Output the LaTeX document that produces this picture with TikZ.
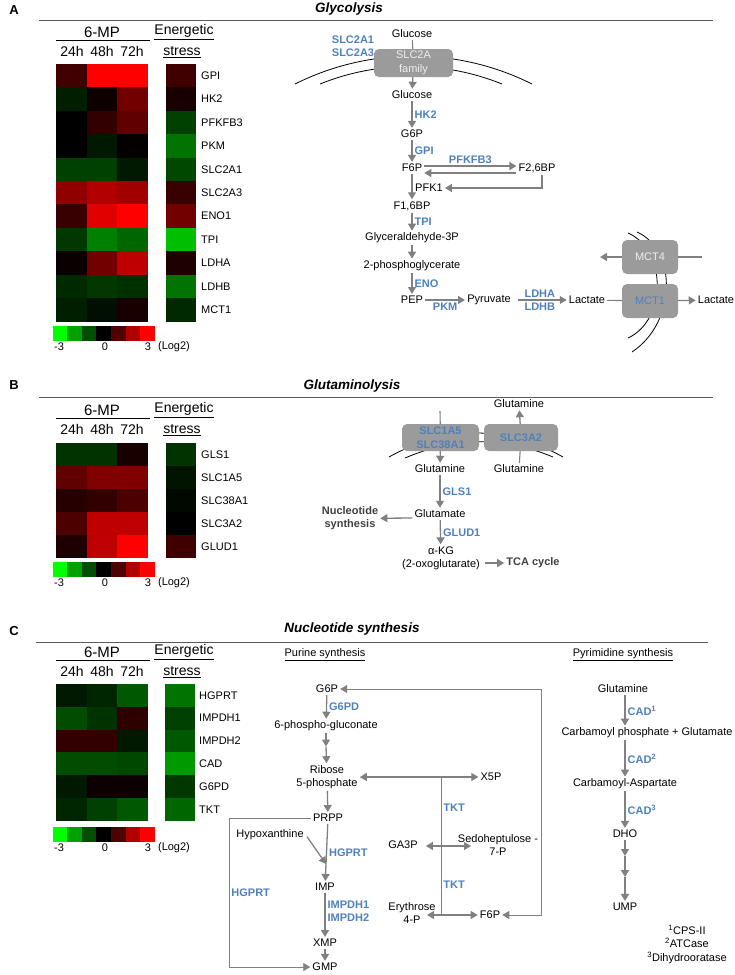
\documentclass[tikz,border=0pt]{standalone}
\usepackage{fontspec}
\setmainfont{Liberation Sans}
\usepackage{tikz}
\usetikzlibrary{arrows.meta,positioning}

\definecolor{enzblue}{RGB}{79,129,189}
\definecolor{arrowgray}{RGB}{128,128,128}
\definecolor{boxgray}{RGB}{155,155,155}
\definecolor{boxtext}{RGB}{238,238,238}
\definecolor{darktext}{RGB}{64,64,64}
\definecolor{rulegray}{RGB}{90,90,90}

% one heat map cell: x, y, width, height, value (-100 green ... 100 red)
\newcommand{\heatcell}[5]{%
  \ifnum#5<0 \colorlet{cellcol}{green!\the\numexpr#5*(-1)\relax!black}%
  \else \colorlet{cellcol}{red!#5!black}\fi
  \fill[cellcol] ({#1},{#2}) rectangle ++(#3,#4);}

\begin{document}
\begin{tikzpicture}[x=1pt,y=-1pt,
    txt/.style={font=\fontsize{11}{13}\selectfont, inner sep=2pt, align=center},
    enz/.style={font=\fontsize{11}{13}\selectfont\bfseries, text=enzblue, inner sep=2pt, align=left},
    gene/.style={font=\fontsize{11}{13}\selectfont, anchor=west, inner sep=2pt},
    hdr/.style={font=\fontsize{14}{16}\selectfont, inner sep=1pt},
    ttl/.style={font=\fontsize{13.5}{16}\selectfont\bfseries\itshape},
    panel/.style={font=\fontsize{13}{15}\selectfont\bfseries},
    outcome/.style={font=\fontsize{11}{13}\selectfont\bfseries, text=darktext, align=center, inner sep=2pt},
    carrier/.style={fill=boxgray, rounded corners=5pt, minimum width=56pt, minimum height=34pt, align=center, font=\fontsize{11}{14}\selectfont, text=boxtext, inner sep=1pt},
    flow/.style={draw=arrowgray, line width=1.3pt, -{Triangle[length=7pt,width=8pt]}},
    flowthin/.style={draw=arrowgray, line width=0.9pt, -{Triangle[length=7pt,width=8pt]}},
    flowboth/.style={draw=arrowgray, line width=1.1pt, {Triangle[length=7pt,width=8pt]}-{Triangle[length=7pt,width=8pt]}},
    link/.style={draw=arrowgray, line width=1.1pt},
    membrane/.style={draw=black, line width=0.8pt},
    rule/.style={draw=rulegray, line width=1pt}]

\useasboundingbox (0,0) rectangle (735,975);

%panel letters, titles and rules
\node[panel] (lblA) at (14,10) {A};
\node[panel] (lblB) at (14,385) {B};
\node[panel] (lblC) at (14,631) {C};
\node[ttl] (ttlA) at (349,9) {Glycolysis};
\node[ttl] (ttlB) at (352,386) {Glutaminolysis};
\node[ttl] (ttlC) at (352,629) {Nucleotide synthesis};
\draw[rule] (39,20) -- (713,20);
\draw[rule] (39,397) -- (713,397);
\draw[rule] (36,642) -- (708,642);

%heat map headers
\foreach \p/\y in {A/32,B/410,C/652}{
  \node[hdr, font=\fontsize{15}{17}\selectfont] (mp-\p) at (102,\y) {6-MP};
  \draw (56,\y+8.5) -- (150,\y+8.5);
  \node[hdr] (t24-\p) at (72,\y+19) {24h};
  \node[hdr] (t48-\p) at (102,\y+19) {48h};
  \node[hdr] (t72-\p) at (132,\y+19) {72h};
  \node[hdr] (en-\p) at (184,\y) {\underline{Energetic}};
  \node[hdr] (st-\p) at (182,\y+20) {\underline{stress}};
}

%heat map A
\foreach \g/\a/\b/\c/\e [count=\i from 0] in {GPI/25/100/100/25, HK2/-12/6/45/10,
    PFKFB3/0/20/38/-25, PKM/0/-10/2/-45, SLC2A1/-25/-25/-10/-28, SLC2A3/57/70/63/22,
    ENO1/22/88/100/45, TPI/-22/-50/-40/-75, LDHA/3/45/75/12, LDHB/-16/-22/-19/-45,
    MCT1/-12/-6/10/-16}{
  \heatcell{56}{64+23.4*\i}{30.8}{23.5}{\a}
  \heatcell{86.7}{64+23.4*\i}{30.8}{23.5}{\b}
  \heatcell{117.4}{64+23.4*\i}{30.6}{23.5}{\c}
  \heatcell{166}{64+23.4*\i}{30}{23.5}{\e}
  \node[gene] (gA-\i) at (199,{75.7+23.4*\i}) {\g};
}

%heat map B
\foreach \g/\a/\b/\c/\e [count=\i from 0] in {GLS1/-20/-20/10/-20, SLC1A5/38/50/50/-8,
    SLC38A1/15/20/30/-3, SLC3A2/30/75/75/0, GLUD1/12/75/100/25}{
  \heatcell{56}{443+23*\i}{30.8}{23.1}{\a}
  \heatcell{86.7}{443+23*\i}{30.8}{23.1}{\b}
  \heatcell{117.4}{443+23*\i}{30.6}{23.1}{\c}
  \heatcell{166}{443+23*\i}{30}{23.1}{\e}
  \node[gene] (gB-\i) at (199,{454.5+23*\i}) {\g};
}

%heat map C
\foreach \g/\a/\b/\c/\e [count=\i from 0] in {HGPRT/-10/-15/-35/-45, IMPDH1/-30/-20/18/-25,
    IMPDH2/20/20/-10/-35, CAD/-30/-30/-28/-60, G6PD/-10/5/5/-22, TKT/-15/-25/-35/-40}{
  \heatcell{56}{684+22.8*\i}{30.8}{22.9}{\a}
  \heatcell{86.7}{684+22.8*\i}{30.8}{22.9}{\b}
  \heatcell{117.4}{684+22.8*\i}{30.6}{22.9}{\c}
  \heatcell{165}{684+22.8*\i}{30}{22.9}{\e}
  \node[gene] (gC-\i) at (197,{695.4+22.8*\i}) {\g};
}

%colour keys
\foreach \p/\y in {A/326,B/562,C/827}{
  \foreach \val [count=\col from 0] in {-100,-63,-31,0,31,69,100}{
    \heatcell{52.5+14.6*\col}{\y}{14.7}{15}{\val}
  }
  \node[txt] (lo-\p) at (59,\y+21) {-3};
  \node[txt] (mid-\p) at (105,\y+21) {0};
  \node[txt] (hi-\p) at (148,\y+21) {3};
  \node[txt] (log-\p) at (174,\y+21) {(Log2)};
}

%glycolysis
\draw[membrane] (295,84) .. controls (369.5,46.7) and (457.5,46.7) .. (532,84);
\draw[membrane] (320,84) .. controls (378.1,60.5) and (443.9,60.5) .. (502,84);
\draw[membrane] (628,233) .. controls (667,250) and (667,320) .. (628,338);
\draw[membrane] (637,232) .. controls (677,250) and (677,322) .. (632,352);

\node[txt] (glcout) at (412,34) {Glucose};
\node[enz] (slc2a) at (353,46.5) {SLC2A1\\SLC2A3};
\node[carrier, minimum width=79pt, minimum height=28pt] (slcbox) at (413.5,63) {SLC2A\\family};
\node[txt] (glcin) at (412,95) {Glucose};
\node[txt] (g6p) at (412,134) {G6P};
\node[txt] (f6p) at (412,168) {F6P};
\node[txt] (f26bp) at (537,168) {F2,6BP};
\node[txt, anchor=west] (pfk1) at (413,188) {PFK1};
\node[txt] (f16bp) at (412,206) {F1,6BP};
\node[txt] (ga3p) at (412,238) {Glyceraldehyde-3P};
\node[txt] (pga) at (412,266) {2-phosphoglycerate};
\node[txt] (pep) at (412,300) {PEP};
\node[txt] (pyr) at (489,300) {Pyruvate};
\node[txt] (lacin) at (587,300) {Lactate};
\node[carrier, text=enzblue] (mct1) at (650,301) {MCT1};
\node[carrier] (mct4) at (650,257) {MCT4};
\node[txt] (lacout) at (716,300) {Lactate};
\coordinate (m4in) at (702,257);
\coordinate (m4out) at (600,257);

\draw[link] (glcout) -- (slcbox);
\draw[flow] (slcbox) -- (glcin);
\draw[flow] (glcin) -- (g6p) node[midway, right, enz] {HK2};
\draw[flow] (g6p) -- (f6p) node[midway, right, enz] {GPI};
\draw[flow] ([yshift=2pt]f6p.east) -- ([yshift=2pt]f26bp.west) node[midway, above, enz] {PFKFB3};
\draw[flow] ([yshift=-5pt]f26bp.west) -- ([yshift=-5pt]f6p.east);
\draw[flow] ([xshift=5pt]f26bp.south) |- (pfk1);
\draw[flow] (f6p) -- (f16bp);
\draw[flow] (f16bp) -- (ga3p) node[midway, right, enz] {TPI};
\draw[flow] (ga3p) -- (pga);
\draw[flow] (pga) -- (pep) node[midway, right, enz] {ENO};
\draw[flow] (pep) -- (pyr) node[midway, below, enz] {PKM};
\draw[flow, shorten <=5pt] (pyr) -- (lacin) node[midway, above, enz] {LDHA} node[midway, below, enz] {LDHB};
\draw[link] (lacin) -- (mct1);
\draw[flow] (mct1) -- (lacout);
\draw[link] (m4in) -- (mct4);
\draw[flow] (mct4) -- (m4out);

%glutaminolysis
\draw[membrane] (389,457) .. controls (446.7,425) and (505.3,425) .. (563,457);
\draw[membrane] (405,458) .. controls (455.2,436.7) and (502.8,436.2) .. (553,457);

\node[carrier, minimum width=77pt, minimum height=27pt, text=enzblue, font=\fontsize{11}{14}\selectfont\bfseries] (slc1) at (440.5,437.5) {SLC1A5\\SLC38A1};
\node[carrier, minimum width=74pt, minimum height=27pt, text=enzblue, font=\fontsize{11}{14}\selectfont\bfseries] (slc3) at (521,437.5) {SLC3A2};
\node[txt] (glnBtop) at (519,404) {Glutamine};
\coordinate (glnBsrc) at (440,411);
\node[txt] (glnB1) at (440,469) {Glutamine};
\node[txt] (glnB2) at (519,469) {Glutamine};
\node[txt] (gluB) at (440,514) {Glutamate};
\node[outcome] (nucsyn) at (350,518.5) {Nucleotide\\synthesis};
\node[txt] (akg) at (441,558) {α-KG\\(2-oxoglutarate)};
\node[outcome] (tca) at (533,563) {TCA cycle};

\draw[link] (glnBsrc) -- (slc1);
\draw[flow] (slc1) -- (glnB1);
\draw[link] (glnB2) -- (slc3);
\draw[flow] (slc3) -- (glnBtop);
\draw[flow] (glnB1) -- (gluB) node[midway, right, enz] {GLS1};
\draw[flow] ([yshift=-4pt]gluB.west) -- (nucsyn);
\draw[flow] (gluB) -- (akg) node[midway, right, enz] {GLUD1};
\draw[flow, shorten <=3pt] (akg.east |- tca) -- (tca);

%nucleotide synthesis
\node[txt] (purine) at (325,655) {\underline{Purine synthesis}};
\node[txt] (pyrimidine) at (623,655) {\underline{Pyrimidine synthesis}};

\node[txt] (g6pC) at (327,689) {G6P};
\node[txt] (pgl) at (326,726) {6-phospho-gluconate};
\coordinate (pglmid) at (326,746.5);
\node[txt] (r5p) at (327,777) {Ribose\\5-phosphate};
\node[txt] (x5p) at (491,777) {X5P};
\node[txt] (prpp) at (328,818) {PRPP};
\node[txt] (hyp) at (270,835) {Hypoxanthine};
\coordinate (hypend) at (326,864);
\node[txt] (imp) at (325,887) {IMP};
\node[txt] (xmp) at (325,943) {XMP};
\node[txt] (gmp) at (325,967) {GMP};
\node[txt] (ga3pC) at (403,845) {GA3P};
\node[txt] (sedo) at (498,845) {Sedoheptulose -\\7-P};
\coordinate (sedoL) at (471,846);
\node[txt] (e4p) at (412,913) {Erythrose\\4-P};
\coordinate (e4pR) at (427,915);
\node[txt] (f6pC) at (490,915) {F6P};
\coordinate (loopTR) at (541,689);
\coordinate (loopBR) at (541,915);
\coordinate (brtop) at (229,818);
\coordinate (brbot) at (229,967);
\coordinate (tktA) at (441,777);
\coordinate (tktB) at (441,915);

\draw[flow] (g6pC) -- (pgl) node[midway, right, enz] {G6PD};
\draw[flow] (pgl) -- (pglmid);
\draw[flow] (pglmid) -- (r5p);
\draw[flowboth] (r5p) -- (x5p);
\draw[flow] (r5p) -- (prpp);
\draw[flow] (prpp) -- (imp) node[midway, right, enz] {HGPRT};
\draw[flow, shorten <=2pt] (hyp.east) -- (hypend);
\draw[flow] (imp) -- (xmp) node[pos=0.42, right, enz] {IMPDH1\\IMPDH2};
\draw[flow] (xmp) -- (gmp);
\draw[flowthin] (prpp) -- (brtop) -- (brbot) node[midway, right, enz] {HGPRT} -- (gmp);
\draw[link, line width=0.9pt] (tktA) -- (tktB) node[pos=0.22, right, enz] {TKT} node[pos=0.78, right, enz] {TKT};
\draw[flowboth, shorten <=6pt] (ga3pC.east |- sedoL) -- (sedoL);
\draw[flowboth] (e4pR) -- (f6pC);
\draw[flowboth, line width=0.9pt] (g6pC) -- (loopTR) -- (loopBR) -- (f6pC);

\node[txt] (glnC) at (623,689) {Glutamine};
\node[txt] (cp) at (647,733) {Carbamoyl phosphate + Glutamate};
\node[txt] (ca) at (625,784) {Carbamoyl-Aspartate};
\node[txt] (dho) at (625,834) {DHO};
\coordinate (dho1) at (625,856);
\coordinate (dho2) at (625,877);
\node[txt] (ump) at (625,907) {UMP};
\node[txt, font=\fontsize{11}{13.5}\selectfont] (notes) at (687,944) {\textsuperscript{1}CPS-II\\\textsuperscript{2}ATCase\\\textsuperscript{3}Dihydrooratase};

\draw[flow] (glnC.south -| dho) -- (cp.north -| dho) node[midway, right, enz] {CAD\textsuperscript{1}};
\draw[flow] (cp.south -| dho) -- (ca) node[midway, right, enz] {CAD\textsuperscript{2}};
\draw[flow] (ca) -- (dho) node[midway, right, enz] {CAD\textsuperscript{3}};
\draw[flow] (dho) -- (dho1);
\draw[flow] (dho1) -- (dho2);
\draw[flow] (dho2) -- (ump);
\end{tikzpicture}
\end{document}
